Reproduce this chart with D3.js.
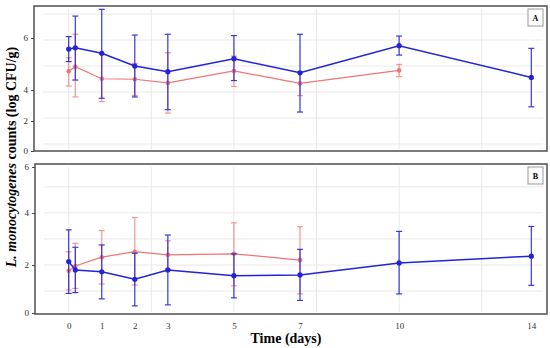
<!DOCTYPE html>
<html>
<head>
<meta charset="utf-8">
<script src="https://cdn.jsdelivr.net/npm/d3@7"></script>
<style>
  body { margin: 0; background: #fff; }
  text { font-family: "Liberation Serif", "DejaVu Serif", serif; }
</style>
</head>
<body>
<script>
// days sampled (0.2 = a few hours after inoculation)
var daysA = [0, 0.2, 1, 2, 3, 5, 7, 10, 14];
var blueA = [5.65, 5.70, 5.49, 5.00, 4.78, 5.28, 4.74, 5.78, 4.56];
var blueA_hi = [6.13, 6.92, 7.18, 6.19, 6.22, 6.17, 6.22, 6.15, 5.68];
var blueA_lo = [5.17, 4.46, 3.76, 3.81, 3.32, 4.44, 3.23, 5.42, 3.43];

var daysRed = [0, 0.2, 1, 2, 3, 5, 7, 10];
var redA = [4.80, 4.97, 4.51, 4.49, 4.35, 4.81, 4.33, 4.83];
var redA_hi = [5.32, 6.22, 5.45, 5.10, 5.51, 5.38, 4.78, 5.06];
var redA_lo = [4.23, 3.81, 3.63, 3.87, 3.19, 4.21, 3.86, 4.59];

var daysB = [0, 0.2, 1, 2, 3, 5, 7, 10, 14];
var blueB = [2.13, 1.81, 1.74, 1.45, 1.81, 1.59, 1.62, 2.08, 2.34];
var blueB_hi = [3.35, 2.68, 2.77, 2.45, 3.15, 2.43, 2.60, 3.29, 3.48];
var blueB_lo = [0.91, 0.94, 0.70, 0.43, 0.47, 0.74, 0.64, 0.89, 1.22];

var daysRedB = [0, 0.2, 1, 2, 3, 5, 7];
var redB = [1.78, 1.96, 2.30, 2.51, 2.39, 2.43, 2.19];
var redB_hi = [2.51, 2.83, 3.32, 3.82, 2.93, 3.62, 3.47];
var redB_lo = [1.04, 1.10, 1.27, 1.23, 1.83, 1.20, 0.89];

var xTicks = [0, 1, 2, 3, 5, 7, 10, 14];
var xGrid = [0, 2.5, 5, 7.5, 10, 12.5];
var yTicks = [0, 2, 4, 6];

var BLUE = "#2323d8";
var RED = "#f07474";

var svg = d3.select("body").append("svg")
  .attr("width", 550)
  .attr("height", 348);

var x = d3.scaleLinear().domain([0, 14]).range([68.7, 531.3]);

var panels = [
  {
    name: "A", box: [34, 6, 513, 145],
    y: d3.scaleLinear().domain([0, 7]).range([196, 14]),
    yGrid: [2, 3, 4, 5, 6, 7],
    // printed tick labels on the original are not evenly spaced
    yLab: d3.scaleLinear().domain(yTicks).range([151, 121, 90, 38]),
    series: [
      { days: daysRed, v: redA, hi: redA_hi, lo: redA_lo, color: RED, w: 1.2, r: 2.3, op: 0.75 },
      { days: daysA, v: blueA, hi: blueA_hi, lo: blueA_lo, color: BLUE, w: 1.5, r: 2.6, op: 0.9 }
    ]
  },
  {
    name: "B", box: [35, 164, 512, 150],
    y: d3.scaleLinear().domain([0, 6]).range([317.1, 160.8]),
    yGrid: [1, 2, 3, 4, 5],
    yLab: d3.scaleLinear().domain(yTicks).range([313, 265, 213, 167]),
    series: [
      { days: daysRedB, v: redB, hi: redB_hi, lo: redB_lo, color: RED, w: 1.2, r: 2.3, op: 0.75 },
      { days: daysB, v: blueB, hi: blueB_hi, lo: blueB_lo, color: BLUE, w: 1.5, r: 2.6, op: 0.9 }
    ]
  }
];

panels.forEach(function(p) {
  var bx = p.box[0], by = p.box[1], bw = p.box[2], bh = p.box[3];
  var g = svg.append("g");

  // grid
  g.selectAll(".vg").data(xGrid).enter().append("line")
    .attr("x1", function(d) { return x(d); })
    .attr("x2", function(d) { return x(d); })
    .attr("y1", by + 3).attr("y2", by + bh - 2)
    .style("stroke", "#e8e8e8").style("stroke-width", 1);

  g.selectAll(".hg").data(p.yGrid).enter().append("line")
    .attr("x1", bx + 9).attr("x2", bx + bw - 4)
    .attr("y1", function(d) { return p.y(d); })
    .attr("y2", function(d) { return p.y(d); })
    .style("stroke", "#e8e8e8").style("stroke-width", 1);

  // frame
  g.append("rect")
    .attr("x", bx).attr("y", by).attr("width", bw).attr("height", bh)
    .style("fill", "none").style("stroke", "#5a5a5a").style("stroke-width", 1.6);

  // y axis labels
  var ax = d3.axisLeft(p.yLab).tickValues(yTicks).tickFormat(d3.format("d"))
    .tickSize(3).tickPadding(3);
  var axg = g.append("g").attr("transform", "translate(" + bx + ",0)").call(ax);
  axg.select(".domain").remove();
  axg.selectAll("line").style("stroke", "#444");
  axg.selectAll("text").style("font-size", "9px").style("fill", "#333")
    .style("font-family", "Liberation Serif, serif");

  // panel letter
  g.append("rect")
    .attr("x", bx + bw - 19).attr("y", by + 3).attr("width", 15).attr("height", 17)
    .style("fill", "#fff").style("stroke", "#999").style("stroke-width", 1);
  g.append("text")
    .attr("x", bx + bw - 11.5).attr("y", by + 15)
    .attr("text-anchor", "middle")
    .style("font-size", "8px").style("font-weight", "bold")
    .text(p.name);

  // series
  p.series.forEach(function(s) {
    var pts = s.days.map(function(d, i) {
      return { d: d, v: s.v[i], hi: s.hi[i], lo: s.lo[i] };
    });
    var sg = g.append("g");

    var bars = sg.selectAll(".eb").data(pts).enter().append("g")
      .style("stroke", s.color).style("stroke-width", 1.2).style("opacity", s.op);
    bars.append("line")
      .attr("x1", function(d) { return x(d.d); }).attr("x2", function(d) { return x(d.d); })
      .attr("y1", function(d) { return p.y(d.hi); }).attr("y2", function(d) { return p.y(d.lo); });
    bars.append("line")
      .attr("x1", function(d) { return x(d.d) - 3; }).attr("x2", function(d) { return x(d.d) + 3; })
      .attr("y1", function(d) { return p.y(d.hi); }).attr("y2", function(d) { return p.y(d.hi); });
    bars.append("line")
      .attr("x1", function(d) { return x(d.d) - 3; }).attr("x2", function(d) { return x(d.d) + 3; })
      .attr("y1", function(d) { return p.y(d.lo); }).attr("y2", function(d) { return p.y(d.lo); });

    var line = d3.line()
      .x(function(d) { return x(d.d); })
      .y(function(d) { return p.y(d.v); });
    sg.append("path").datum(pts)
      .attr("d", line)
      .style("fill", "none").style("stroke", s.color).style("stroke-width", s.w);

    sg.selectAll("circle").data(pts).enter().append("circle")
      .attr("cx", function(d) { return x(d.d); })
      .attr("cy", function(d) { return p.y(d.v); })
      .attr("r", s.r)
      .style("fill", s.color);
  });
});

// x axis labels under panel B
var xa = d3.axisBottom(x).tickValues(xTicks).tickSize(0).tickPadding(9);
var xg = svg.append("g").attr("transform", "translate(0,314)").call(xa);
xg.select(".domain").remove();
xg.selectAll("text").style("font-size", "9px").style("fill", "#333")
  .style("font-family", "Liberation Serif, serif");

svg.append("text")
  .attr("x", 286).attr("y", 343)
  .attr("text-anchor", "middle")
  .style("font-size", "14px").style("font-weight", "bold")
  .text("Time (days)");

var yt = svg.append("text")
  .attr("transform", "translate(16,157) rotate(-90)")
  .attr("text-anchor", "middle")
  .style("font-size", "14px").style("font-weight", "bold");
yt.append("tspan").style("font-style", "italic").text("L. monocytogenes");
yt.append("tspan").text(" counts (log CFU/g)");
</script>
</body>
</html>
